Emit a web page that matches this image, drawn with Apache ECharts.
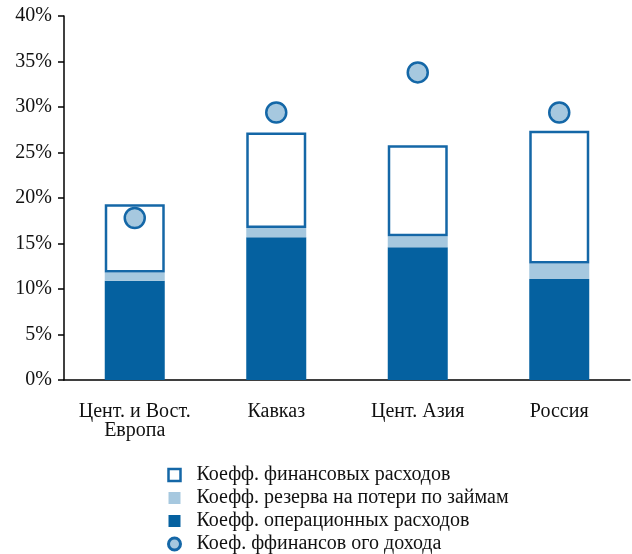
<!DOCTYPE html>
<html>
<head>
<meta charset="utf-8">
<script src="https://cdn.jsdelivr.net/npm/echarts@6/dist/echarts.min.js"></script>
<style>
  html, body { margin: 0; padding: 0; background: #fff; }
  #chart { width: 632px; height: 554px; }
</style>
</head>
<body>
<div id="chart"></div>
<script>
// Regions
const categories = ['Цент. и Вост.\nЕвропа', 'Кавказ', 'Цент. Азия', 'Россия'];

// Ratios, % of portfolio
const operatingExpense = [10.9, 15.7, 14.6, 11.1];
const loanLossReserve = [0.9, 1.0, 1.2, 1.7];
const financialExpense = [7.5, 10.5, 10.0, 14.6];
const financialRevenue = [17.8, 29.4, 33.8, 29.4];

const yTicks = { min: 0, max: 40, interval: 5 };

const names = {
  fin: 'Коефф. финансовых расходов',
  res: 'Коефф. резерва на потери по займам',
  op: 'Коефф. операционных расходов',
  rev: 'Коеф. ффинансов ого дохода'
};

const DARK = '#0561a0';
const LIGHT = '#a6c8df';
const EDGE = '#1467a7';
const FONT = 'Liberation Serif';

const chart = echarts.init(document.getElementById('chart'));
chart.setOption({
  animation: false,
  textStyle: { fontFamily: FONT },
  grid: { left: 64, right: 2, top: 16, bottom: 174 },
  legend: {
    orient: 'vertical',
    left: 167,
    top: 465,
    padding: 0,
    itemGap: 3,
    itemWidth: 12,
    itemHeight: 12,
    textStyle: { fontFamily: FONT, fontSize: 20, lineHeight: 20, color: '#111', padding: [0, 0, 0, 11] },
    data: [
      { name: names.fin, icon: 'rect', itemStyle: { color: '#fff', borderColor: EDGE, borderWidth: 2.5 } },
      { name: names.res, icon: 'rect', itemStyle: { color: LIGHT, borderWidth: 0 } },
      { name: names.op, icon: 'rect', itemStyle: { color: DARK, borderWidth: 0 } },
      { name: names.rev, icon: 'circle', itemStyle: { color: LIGHT, borderColor: EDGE, borderWidth: 3 } }
    ]
  },
  xAxis: {
    type: 'category',
    data: categories,
    axisLine: { lineStyle: { color: '#000', width: 1.5 } },
    axisTick: { length: 6, lineStyle: { color: '#000', width: 1.5 } },
    axisLabel: {
      fontFamily: FONT, fontSize: 20, color: '#111', margin: 22, lineHeight: 19,
      interval: 0, hideOverlap: false
    }
  },
  yAxis: {
    type: 'value',
    min: yTicks.min,
    max: yTicks.max,
    interval: yTicks.interval,
    splitLine: { show: false },
    axisLine: { show: true, lineStyle: { color: '#000', width: 1.5 } },
    axisTick: { show: true, length: 6, lineStyle: { color: '#000', width: 1.5 } },
    axisLabel: { fontFamily: FONT, fontSize: 20, color: '#111', margin: 12, formatter: '{value}%' }
  },
  series: [
    {
      name: names.op, type: 'bar', stack: 'total', barWidth: 60,
      itemStyle: { color: DARK },
      data: operatingExpense
    },
    {
      name: names.res, type: 'bar', stack: 'total',
      itemStyle: { color: LIGHT },
      data: loanLossReserve
    },
    {
      name: names.fin, type: 'bar', stack: 'total',
      itemStyle: { color: '#fff', borderColor: EDGE, borderWidth: 2.5 },
      data: financialExpense
    },
    {
      name: names.rev, type: 'scatter', symbol: 'circle', symbolSize: 20,
      itemStyle: { color: LIGHT, borderColor: EDGE, borderWidth: 2.5, opacity: 1 },
      data: financialRevenue,
      z: 5
    }
  ]
});
</script>
</body>
</html>
